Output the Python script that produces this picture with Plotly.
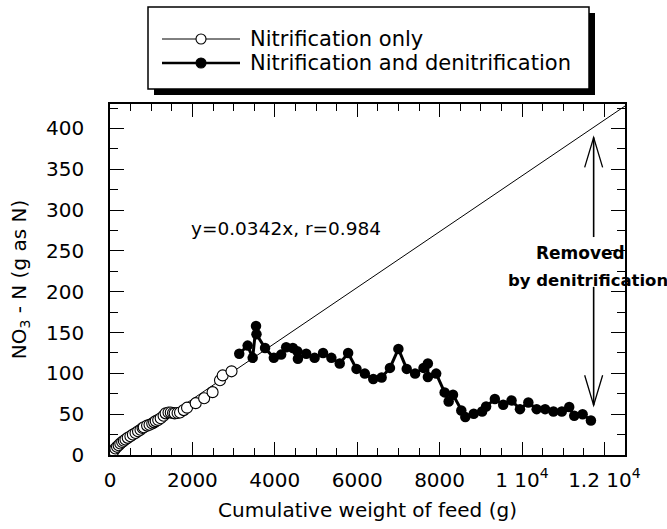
import plotly.graph_objects as go

# Cumulative feed weight (g) and nitrate-N (g as N), nitrification-only phase
feed_nitrification = [15, 50, 90, 130, 170, 210, 250, 295, 335, 375, 430, 495, 555,
                      620, 680, 740, 790, 820, 900, 960, 1025, 1070, 1110, 1170, 1230,
                      1300, 1350, 1420, 1475, 1530, 1570, 1640, 1700, 1790, 1870,
                      2080, 2285, 2490, 2670, 2735, 2950]
no3_nitrification = [1.5, 3, 5, 8, 10, 12, 14, 16, 17.5, 19, 21, 23, 25,
                     27, 29, 31, 33, 34, 36, 37, 38.5, 40, 41.5, 43, 45,
                     48, 51, 52, 52, 51.5, 51, 51.5, 52, 55, 58,
                     63.5, 69.5, 77, 91.5, 97.5, 102.5]

# Nitrification and denitrification phase
feed_denitrification = [3137, 3341, 3463, 3544, 3555, 3763, 3976, 4154, 4276, 4439,
                        4546, 4561, 4763, 4966, 5171, 5373, 5576, 5780, 5983, 6185,
                        6390, 6593, 6795, 7000, 7202, 7405, 7610, 7715, 7715, 7917,
                        8122, 8220, 8325, 8527, 8624, 8829, 9032, 9129, 9341, 9544,
                        9746, 9951, 10154, 10356, 10561, 10763, 10966, 11146, 11268,
                        11471, 11673]
no3_denitrification = [124, 134, 119, 158, 148, 131, 119, 123, 132, 131,
                       127, 118, 124, 119, 125, 119, 112, 125, 105.5, 99.7,
                       93.2, 95, 106.7, 130, 105.5, 99.7, 106.7, 112, 95.6, 99.7,
                       76.7, 65.6, 73.8, 54.6, 46.4, 50.5, 53.3, 59.5, 68.5, 61.5,
                       66.8, 56.2, 64.4, 56.2, 56.2, 53.3, 53.3, 58.7, 48,
                       50, 42.2]

# Regression of the nitrification-only data: y = slope * x
slope = 0.0342
x_max = 12500
y_max = 430
fit_x = [0, x_max]
fit_y = [slope * v for v in fit_x]

x_tickvals = [0, 2000, 4000, 6000, 8000, 10000, 12000]
x_ticktext = ["0", "2000", "4000", "6000", "8000", "1 10<sup>4</sup>", "1.2 10<sup>4</sup>"]

legend_names = ["Nitrification only", "Nitrification and denitrification"]

# Double-headed "removed" arrow position (data units)
arrow_x = 11739
arrow_up = (267, 389)     # base, tip
arrow_down = (206, 61)    # base, tip
head_dx, head_dy = 218, 36.7

FONT = "DejaVu Sans"
W, H = 667, 529
M = dict(l=110, r=42, t=104, b=74)


def px_to_paper(px, py):
    pw = W - M["l"] - M["r"]
    ph = H - M["t"] - M["b"]
    return (px - M["l"]) / pw, (H - M["b"] - py) / ph


fig = go.Figure()

fig.add_trace(go.Scatter(
    x=fit_x, y=fit_y, mode="lines",
    line=dict(color="black", width=1), showlegend=False, hoverinfo="skip"))

fig.add_trace(go.Scatter(
    x=feed_nitrification, y=no3_nitrification, mode="markers",
    name=legend_names[0], showlegend=False,
    marker=dict(symbol="circle", size=11, color="white",
                line=dict(color="black", width=1.1))))

fig.add_trace(go.Scatter(
    x=feed_denitrification, y=no3_denitrification, mode="lines+markers",
    name=legend_names[1], showlegend=False,
    line=dict(color="black", width=3),
    marker=dict(symbol="circle", size=10.5, color="black")))

shapes = []

# Arrows: shafts and open arrowheads
for base, tip in (arrow_up, arrow_down):
    sgn = 1 if tip > base else -1
    shapes.append(dict(type="line", xref="x", yref="y", x0=arrow_x, x1=arrow_x,
                       y0=base, y1=tip, line=dict(color="black", width=1.6)))
    shapes.append(dict(type="path", xref="x", yref="y",
                       path=f"M{arrow_x - head_dx},{tip - sgn * head_dy} L{arrow_x},{tip} "
                            f"L{arrow_x + head_dx},{tip - sgn * head_dy}",
                       line=dict(color="black", width=1.3)))

# Legend box with drop shadow
bx0, by0 = px_to_paper(148, 7)
bx1, by1 = px_to_paper(589, 89)
sx0, sy0 = px_to_paper(154, 13)
sx1, sy1 = px_to_paper(595, 95)
shapes.append(dict(type="rect", xref="paper", yref="paper", x0=sx0, y0=sy0, x1=sx1, y1=sy1,
                   fillcolor="black", line=dict(width=0)))
shapes.append(dict(type="rect", xref="paper", yref="paper", x0=bx0, y0=by0, x1=bx1, y1=by1,
                   fillcolor="white", line=dict(color="black", width=1.5)))

annotations = []
rows = [(39, 1, "white", 1.1), (63, 2.6, "black", 1.1)]
for name, (ry, lw, fill, mlw) in zip(legend_names, rows):
    lx0, ly = px_to_paper(162, ry)
    lx1, _ = px_to_paper(240, ry)
    mx, _ = px_to_paper(201, ry)
    tx, _ = px_to_paper(248, ry)
    shapes.append(dict(type="line", xref="paper", yref="paper", x0=lx0, x1=lx1, y0=ly, y1=ly,
                       line=dict(color="black", width=lw)))
    shapes.append(dict(type="circle", xref="paper", yref="paper",
                       xsizemode="pixel", ysizemode="pixel", xanchor=mx, yanchor=ly,
                       x0=-5, x1=5, y0=-5, y1=5, fillcolor=fill,
                       line=dict(color="black", width=mlw)))
    annotations.append(dict(xref="paper", yref="paper", x=tx, y=ly, text=name,
                            showarrow=False, xanchor="left", yanchor="middle",
                            font=dict(family=FONT, size=21, color="black")))

annotations.append(dict(x=4276, y=277, xref="x", yref="y",
                        text=f"y={slope}x, r=0.984", showarrow=False,
                        font=dict(family=FONT, size=18.5, color="black")))
annotations.append(dict(x=11430, y=247, xref="x", yref="y", text="<b>Removed</b>",
                        showarrow=False, font=dict(family=FONT, size=17, color="black")))
annotations.append(dict(x=11600, y=214, xref="x", yref="y", text="<b>by denitrification</b>",
                        showarrow=False, font=dict(family=FONT, size=16.5, color="black")))

axis_common = dict(
    showline=True, linecolor="black", linewidth=1.6, mirror="ticks",
    ticks="inside", tickcolor="black", tickwidth=1.4,
    showgrid=False, zeroline=False,
    tickfont=dict(family=FONT, size=20, color="black"),
)

fig.update_layout(
    width=W, height=H, margin=M,
    paper_bgcolor="white", plot_bgcolor="white",
    font=dict(family=FONT, color="black"),
    shapes=shapes, annotations=annotations,
    xaxis=dict(**axis_common, range=[0, x_max], tickvals=x_tickvals, ticktext=x_ticktext,
               ticklen=13, ticklabelstandoff=6,
               minor=dict(dtick=500, ticks="inside", ticklen=7, tickwidth=1.4,
                          tickcolor="black", showgrid=False),
               title=dict(text="Cumulative weight of feed (g)", standoff=12,
                          font=dict(family=FONT, size=20, color="black"))),
    yaxis=dict(**axis_common, range=[0, y_max], dtick=50, ticklen=14, ticklabelstandoff=20,
               minor=dict(dtick=25, ticks="inside", ticklen=8, tickwidth=1.4,
                          tickcolor="black", showgrid=False),
               title=dict(text="NO<sub>3</sub> - N (g as N)", standoff=14,
                          font=dict(family=FONT, size=20, color="black"))),
)

fig.write_html("out.html")
